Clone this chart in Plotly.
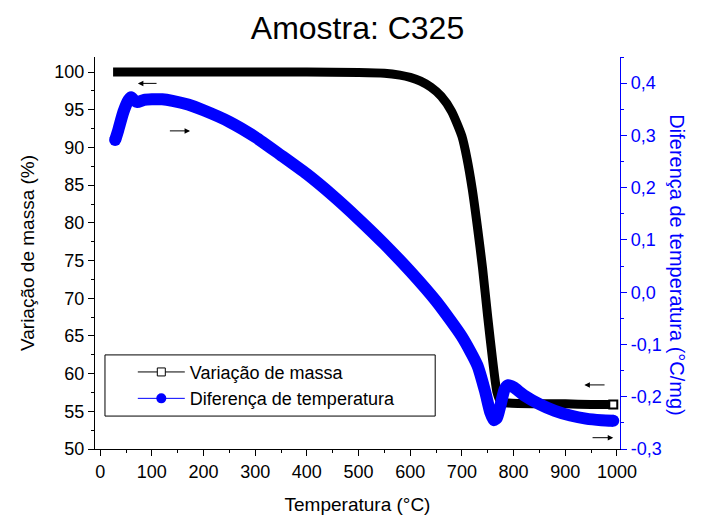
import plotly.graph_objects as go

# ---- data ----
temp_mass = [25, 100, 200, 300, 400, 500, 550, 580, 600, 620, 640, 660, 680, 700, 710, 720,
             730, 740, 750, 760, 768, 775, 790, 850, 900, 950, 993]
mass = [100.0, 100.0, 100.0, 100.0, 100.0, 99.95, 99.85, 99.6, 99.3, 98.8, 98.0, 96.8, 94.8,
        91.5, 88.5, 84.5, 79.5, 74.0, 67.5, 61.5, 57.5, 56.3, 56.1, 56.0, 56.0, 55.9, 55.9]

temp_dta = [29, 35, 45, 55, 60, 66, 72, 85, 100, 120, 140, 170, 200, 250, 300, 350, 400, 450,
            500, 550, 600, 650, 700, 730, 745, 755, 762, 768, 775, 783, 790, 800, 820, 850,
            880, 910, 940, 970, 993]
dta = [0.291, 0.31, 0.345, 0.368, 0.373, 0.367, 0.364, 0.368, 0.369, 0.369, 0.366, 0.359,
       0.348, 0.326, 0.297, 0.262, 0.226, 0.185, 0.14, 0.092, 0.04, -0.017, -0.085, -0.14,
       -0.19, -0.23, -0.245, -0.24, -0.215, -0.185, -0.178, -0.182, -0.197, -0.214, -0.227,
       -0.236, -0.242, -0.245, -0.246]

x_ticks = [0, 100, 200, 300, 400, 500, 600, 700, 800, 900, 1000]
y_ticks = [50, 55, 60, 65, 70, 75, 80, 85, 90, 95, 100]
y2_ticks = [-0.3, -0.2, -0.1, 0.0, 0.1, 0.2, 0.3, 0.4]
y2_labels = ["-0,3", "-0,2", "-0,1", "0,0", "0,1", "0,2", "0,3", "0,4"]

# arrows (tail -> head) in left-axis data coordinates
arrow_tail_x = [112, 132, 979, 950]
arrow_head_x = [73, 174, 937, 993]
arrow_y = [98.5, 92.2, 58.5, 51.5]

BLUE = "#0000FF"
FONT = "Liberation Sans, Arial, sans-serif"

fig = go.Figure()

fig.add_trace(go.Scatter(x=temp_mass, y=mass, mode="lines", line_shape="spline",
                         line=dict(color="black", width=9, smoothing=0.6), showlegend=False))
fig.add_trace(go.Scatter(x=[temp_mass[-1]], y=[mass[-1]], mode="markers",
                         marker=dict(symbol="square", size=8, color="white",
                                     line=dict(color="black", width=2)),
                         showlegend=False))
fig.add_trace(go.Scatter(x=temp_dta, y=dta, mode="lines", line_shape="spline",
                         line=dict(color=BLUE, width=12, smoothing=0.6), showlegend=False,
                         yaxis="y2"))
fig.add_trace(go.Scatter(x=[temp_dta[0], temp_dta[-1]], y=[dta[0], dta[-1]], mode="markers",
                         marker=dict(symbol="circle", size=12, color=BLUE),
                         showlegend=False, yaxis="y2"))

# legend-only entries
fig.add_trace(go.Scatter(x=[None], y=[None], mode="lines+markers", name="Variação de massa",
                         line=dict(color="black", width=1),
                         marker=dict(symbol="square", size=8, color="white",
                                     line=dict(color="black", width=1))))
fig.add_trace(go.Scatter(x=[None], y=[None], mode="lines+markers",
                         name="Diferença de temperatura",
                         line=dict(color=BLUE, width=1),
                         marker=dict(symbol="circle", size=10, color=BLUE), yaxis="y2"))

xr = [-10, 1006]
axis_common = dict(showgrid=False, zeroline=False, showline=True, linewidth=1.3,
                   ticklen=6, tickwidth=1.3)

fig.update_layout(
    width=704, height=521,
    margin=dict(l=87, r=92, t=49, b=80),
    paper_bgcolor="white", plot_bgcolor="white",
    font=dict(family=FONT, size=18, color="black"),
    title=dict(text="Amostra: C325", x=0.5, xref="paper", xanchor="center",
               y=0.962, yref="container", yanchor="middle",
               font=dict(size=32, family=FONT)),
    xaxis=dict(range=xr, tickvals=x_ticks, ticks="outside", linecolor="black",
               tickcolor="black",
               title=dict(text="Temperatura (°C)", font=dict(size=19), standoff=16),
               minor=dict(ticks="outside", dtick=50, tick0=0, ticklen=3,
                          tickcolor="black"),
               **axis_common),
    xaxis2=dict(range=xr, overlaying="x", side="top", anchor="y", tickvals=x_ticks,
                ticks="inside", showticklabels=False, linecolor="black",
                tickcolor="black",
                minor=dict(ticks="inside", dtick=50, tick0=0, ticklen=3,
                           tickcolor="black"),
                **axis_common),
    yaxis=dict(range=[50, 102], tickvals=y_ticks, ticks="outside", linecolor="black",
               tickcolor="black",
               title=dict(text="Variação de massa (%)", font=dict(size=19), standoff=14),
               minor=dict(ticks="outside", dtick=2.5, tick0=50, ticklen=3,
                          tickcolor="black"),
               **axis_common),
    yaxis2=dict(range=[-0.3, 0.45], overlaying="y", side="right", anchor="x",
                tickvals=y2_ticks, ticktext=y2_labels, ticks="outside",
                linecolor=BLUE, tickcolor=BLUE, tickfont=dict(color=BLUE),
                minor=dict(ticks="outside", dtick=0.05, tick0=-0.3, ticklen=3,
                           tickcolor=BLUE),
                **axis_common),
    legend=dict(x=0.072, y=0.243, xanchor="left", yanchor="top",
                borderwidth=0, bgcolor="rgba(255,255,255,0)",
                font=dict(size=18), itemwidth=47),
)

# legend frame (wider than the auto-sized legend, as in the original)
fig.add_shape(type="rect", xref="paper", yref="paper", x0=0.019, x1=0.648,
              y0=0.084, y1=0.240, line=dict(color="black", width=1),
              fillcolor="rgba(0,0,0,0)", layer="above")

fig.add_annotation(text="Diferença de temperatura (°C/mg)", xref="paper", yref="paper",
                   x=1.133, y=0.469, textangle=90, showarrow=False,
                   font=dict(size=20, color=BLUE, family=FONT))

for tx, hx, yy in zip(arrow_tail_x, arrow_head_x, arrow_y):
    fig.add_annotation(x=hx, y=yy, ax=tx, ay=yy, xref="x", yref="y", axref="x", ayref="y",
                       text="", showarrow=True, arrowhead=2, arrowsize=1.1, arrowwidth=1,
                       arrowcolor="black")

fig.write_html("out.html")
